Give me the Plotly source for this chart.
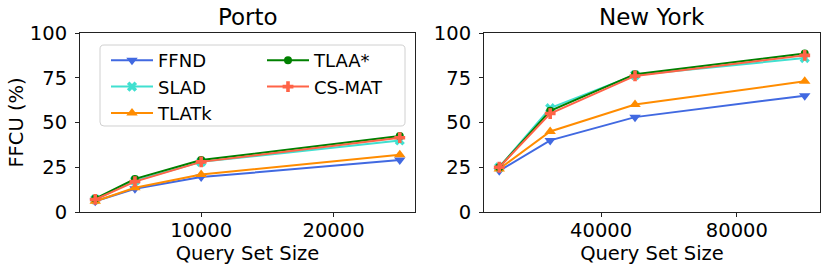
import plotly.graph_objects as go
from plotly.subplots import make_subplots

# ---- data ----
porto_x = [2000, 5000, 10000, 25000]
porto_ffnd = [6, 13, 19.5, 29]
porto_slad = [7, 17.5, 28, 40]
porto_tlatk = [6, 13.5, 21, 32]
porto_tlaa = [7.5, 18.5, 29, 42.5]
porto_csmat = [7, 17, 28, 41.5]

ny_x = [10000, 25000, 50000, 100000]
ny_ffnd = [23, 40, 53, 65]
ny_slad = [25, 58, 76.5, 86]
ny_tlatk = [24, 45, 60, 73]
ny_tlaa = [25, 56.5, 77, 88.5]
ny_csmat = [25, 55, 76, 87.5]

titles = ["Porto", "New York"]
y_ticks = [0, 25, 50, 75, 100]
porto_xticks = [10000, 20000]
ny_xticks = [40000, 80000]

FONT = "DejaVu Sans"
W, H = 830, 273
ML, MR, MT, MB = 80, 10, 33, 61

series = [
    ("FFND", "#4169E1", "triangle-down", 10, porto_ffnd, ny_ffnd, "legend"),
    ("SLAD", "#40E0D0", "x", 9, porto_slad, ny_slad, "legend"),
    ("TLATk", "#FF8C00", "triangle-up", 10, porto_tlatk, ny_tlatk, "legend"),
    ("TLAA*", "#008000", "circle", 8, porto_tlaa, ny_tlaa, "legend2"),
    ("CS-MAT", "#FF6347", "cross", 9, porto_csmat, ny_csmat, "legend2"),
]

fig = make_subplots(rows=1, cols=2, horizontal_spacing=0.09)

for name, color, sym, size, py, ny, lg in series:
    fig.add_trace(go.Scatter(x=porto_x, y=py, name=name, mode="lines+markers",
                             line=dict(color=color, width=2),
                             marker=dict(symbol=sym, size=size, color=color),
                             legend=lg, showlegend=True), row=1, col=1)
    fig.add_trace(go.Scatter(x=ny_x, y=ny, name=name, mode="lines+markers",
                             line=dict(color=color, width=2),
                             marker=dict(symbol=sym, size=size, color=color),
                             legend=lg, showlegend=False), row=1, col=2)

pw = W - ML - MR
ph = H - MT - MB

def px2paper(x, y):
    return (x - ML) / pw, (H - MB - y) / ph

dom1 = [0, (415 - ML) / pw]
dom2 = [(484 - ML) / pw, 1.0]

TF = 19.5
axis_common = dict(showline=True, mirror=True, linecolor="#222", linewidth=1,
                   ticks="outside", ticklen=4, tickcolor="#222", showgrid=False,
                   zeroline=False, automargin=False,
                   tickfont=dict(family=FONT, size=TF, color="black"))

fig.update_xaxes(**axis_common)
fig.update_yaxes(**axis_common)
fig.update_xaxes(ticklabelstandoff=-3)
fig.update_yaxes(ticklabelstandoff=4)
fig.update_xaxes(domain=dom1, range=[850, 26150], tickvals=porto_xticks,
                 ticktext=[str(v) for v in porto_xticks],
                 title=dict(text="Query Set Size", font=dict(family=FONT, size=TF, color="black"), standoff=0),
                 row=1, col=1)
fig.update_xaxes(domain=dom2, range=[5500, 104500], tickvals=ny_xticks,
                 ticktext=[str(v) for v in ny_xticks],
                 title=dict(text="Query Set Size", font=dict(family=FONT, size=TF, color="black"), standoff=0),
                 row=1, col=2)
fig.update_yaxes(range=[0, 100], tickvals=y_ticks,
                 title=dict(text="FFCU (%)", font=dict(family=FONT, size=TF, color="black"), standoff=1),
                 row=1, col=1)
fig.update_yaxes(range=[0, 100], tickvals=y_ticks, row=1, col=2)

annotations = []
for t, d in zip(titles, [dom1, dom2]):
    annotations.append(dict(text=t, x=(d[0] + d[1]) / 2, y=1, xref="paper", yref="paper",
                            xanchor="center", yanchor="bottom", yshift=1, showarrow=False,
                            font=dict(family=FONT, size=23, color="black")))

# legend frame (rounded)
x0, y0, x1, y1, r = 100, 45, 405, 126, 4
def P(x, y):
    a, b = px2paper(x, y)
    return f"{a:.5f},{b:.5f}"
path = (f"M {P(x0 + r, y0)} L {P(x1 - r, y0)} Q {P(x1, y0)} {P(x1, y0 + r)} "
        f"L {P(x1, y1 - r)} Q {P(x1, y1)} {P(x1 - r, y1)} L {P(x0 + r, y1)} "
        f"Q {P(x0, y1)} {P(x0, y1 - r)} L {P(x0, y0 + r)} Q {P(x0, y0)} {P(x0 + r, y0)} Z")

lx1, ly1 = px2paper(106, 42)
lx2, ly2 = px2paper(262, 42)

fig.update_layout(
    width=W, height=H,
    margin=dict(l=ML, r=MR, t=MT, b=MB),
    plot_bgcolor="white", paper_bgcolor="white",
    font=dict(family=FONT, size=TF, color="black"),
    annotations=annotations,
    shapes=[dict(type="path", path=path, xref="paper", yref="paper",
                 line=dict(color="#d0d0d0", width=1), fillcolor="rgba(255,255,255,0.8)",
                 layer="above")],
    legend=dict(x=lx1, y=ly1, xanchor="left", yanchor="top", bgcolor="rgba(0,0,0,0)",
                borderwidth=0, itemwidth=42, tracegroupgap=0,
                font=dict(family=FONT, size=18, color="black")),
    legend2=dict(x=lx2, y=ly2, xanchor="left", yanchor="top", bgcolor="rgba(0,0,0,0)",
                 borderwidth=0, itemwidth=42, tracegroupgap=0,
                 font=dict(family=FONT, size=18, color="black")),
)

fig.write_html("out.html", config={"displayModeBar": False},
               post_script="document.body.style.margin='0';document.body.style.overflow='hidden';")
